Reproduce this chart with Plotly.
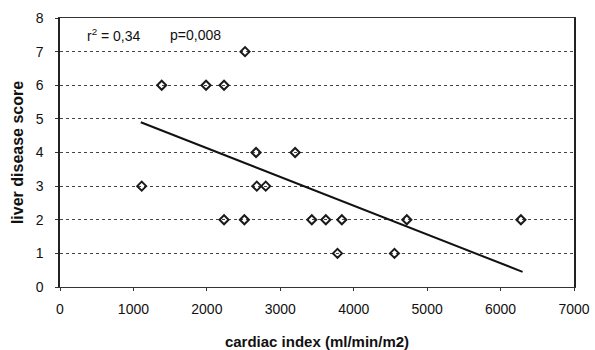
import plotly.graph_objects as go

cardiac_index = [1113, 1385, 1989, 2234, 2520, 2670, 3202, 2680, 2802,
                 2234, 2511, 3429, 3620, 3838, 4723, 6277, 3779, 4555]
liver_score = [3, 6, 6, 6, 7, 4, 4, 3, 3, 2, 2, 2, 2, 2, 2, 2, 1, 1]
trend_x = [1100, 6300]
trend_y = [4.9, 0.45]
x_ticks = [0, 1000, 2000, 3000, 4000, 5000, 6000, 7000]
y_ticks = [0, 1, 2, 3, 4, 5, 6, 7, 8]

fig = go.Figure()
fig.add_trace(go.Scatter(x=cardiac_index, y=liver_score, mode="markers",
                         marker=dict(symbol="diamond-open", size=7, color="#1a1a1a",
                                     line=dict(width=2, color="#1a1a1a")),
                         showlegend=False))
fig.add_trace(go.Scatter(x=trend_x, y=trend_y, mode="lines",
                         line=dict(color="#111", width=2), showlegend=False))

font = dict(family="Liberation Sans, Arial, sans-serif", color="#111")
fig.update_layout(
    width=595, height=350,
    margin=dict(l=60, r=21, t=18, b=63),
    paper_bgcolor="white", plot_bgcolor="white",
    font=font,
    xaxis=dict(range=[0, 7000], tickvals=x_ticks, ticks="outside", ticklen=3,
               tickcolor="#333", showgrid=False, zeroline=False, automargin=False,
               showline=True, linecolor="#333", linewidth=1, mirror=True,
               tickfont=dict(size=14), ticklabeloverflow="allow", ticklabelstandoff=6,
               title=dict(text="<b>cardiac index (ml/min/m2)</b>", font=dict(size=15), standoff=20)),
    yaxis=dict(range=[0, 8], tickvals=y_ticks, ticks="outside", ticklen=3,
               tickcolor="#333", showgrid=True, gridcolor="#444", griddash="dot",
               gridwidth=1, zeroline=False, automargin=False,
               showline=True, linecolor="#222", linewidth=1.5, mirror=True,
               tickfont=dict(size=14), ticklabelstandoff=9,
               title=dict(text="<b>liver disease score</b>", font=dict(size=16), standoff=8)),
    annotations=[
        dict(x=0.048, y=0.935, xref="paper", yref="paper", xanchor="left", yanchor="middle",
             text="r<sup>2</sup> = 0,34", showarrow=False, font=dict(size=14)),
        dict(x=0.21, y=0.935, xref="paper", yref="paper", xanchor="left", yanchor="middle",
             text="p=0,008", showarrow=False, font=dict(size=14)),
    ],
)
fig.write_html("out.html", config={"displayModeBar": False},
               post_script="document.body.style.margin='0';")
